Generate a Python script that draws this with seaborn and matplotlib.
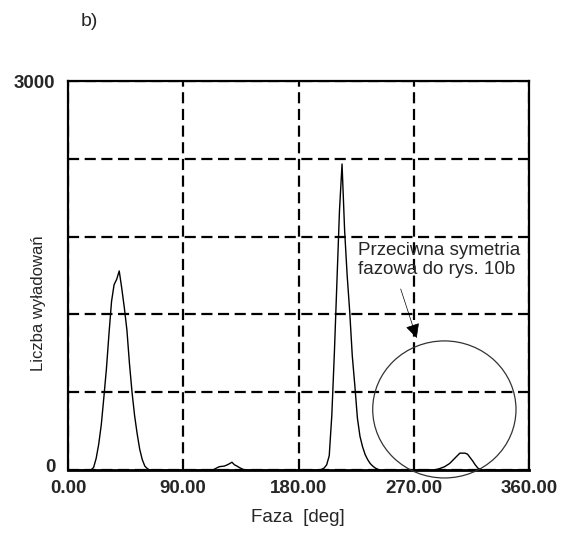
import numpy as np
import pandas as pd
import matplotlib
matplotlib.use("Agg")
import matplotlib.pyplot as plt
import matplotlib.transforms as mtransforms
from matplotlib.patches import Ellipse
import seaborn as sns

# ---- data ----
phase_deg = [0,
             16, 18, 20, 22, 24, 26, 28, 30, 32, 34, 36, 38, 40, 42, 44, 46, 48, 50,
             52, 54, 56, 58, 60, 62, 64,
             112, 114, 116, 118, 120, 122, 124, 126, 128, 130, 132, 134, 136, 138,
             196, 198, 200, 202, 204, 206, 208, 210, 212, 214, 216, 218, 220, 222,
             224, 226, 228, 230, 232, 234, 236, 238, 240, 242, 244,
             286, 290, 294, 298, 302, 306, 310, 312, 316, 318, 320, 322, 324,
             360]
counts = [0,
          0, 0, 20, 90, 200, 350, 560, 780, 1050, 1300, 1430, 1470, 1535, 1400, 1250,
          1080, 820, 600, 420, 280, 160, 80, 30, 10, 0,
          0, 5, 15, 25, 28, 30, 38, 48, 60, 40, 30, 18, 8, 0,
          0, 5, 15, 40, 110, 420, 900, 1450, 2000, 2360, 1850, 1500, 1220, 880,
          650, 400, 260, 180, 120, 80, 50, 30, 15, 5, 0,
          0, 10, 25, 50, 90, 130, 130, 122, 70, 40, 15, 5, 0,
          0]
x_ticks = [0, 90, 180, 270, 360]
x_tick_labels = ["0.00", "90.00", "180.00", "270.00", "360.00"]
y_ticks = [0, 600, 1200, 1800, 2400, 3000]
y_tick_labels = ["0", "", "", "", "", "3000"]

df = pd.DataFrame({"Faza": phase_deg, "Liczba": counts})

sns.set_style("white")
plt.rcParams["font.family"] = ["Liberation Sans", "DejaVu Sans"]

W, H = 573, 534
fig = plt.figure(figsize=(W / 100, H / 100), dpi=100)
L, R, T, B = 68, 529, 81, 470
ax = fig.add_axes([L / W, 1 - B / H, (R - L) / W, (B - T) / H])

sns.lineplot(data=df, x="Faza", y="Liczba", ax=ax, color="black", lw=1.0,
             estimator=None, sort=False)

ax.set_xlim(0, 360)
ax.set_ylim(0, 3000)
ax.set_xticks(x_ticks)
ax.set_xticklabels(x_tick_labels, fontsize=13.5, fontweight="bold")
ax.set_yticks(y_ticks)
ax.set_yticklabels(y_tick_labels, fontsize=13.5, fontweight="bold")
ax.tick_params(axis="both", length=0)
ax.tick_params(axis="x", pad=7)
ax.tick_params(axis="y", pad=9)
ax.set_xlabel("")
ax.set_ylabel("")

# lift the "0" label slightly, as in the reference
zero_lbl = ax.get_yticklabels()[0]
zero_lbl.set_transform(zero_lbl.get_transform() +
                       mtransforms.ScaledTranslation(0, 4 / 100, fig.dpi_scale_trans))

ax.grid(True, color="black", lw=1.6, linestyle=(0, (5, 2.5)))
for s in ax.spines.values():
    s.set_visible(True)
    s.set_color("black")
    s.set_linewidth(1.6)
ax.spines["bottom"].set_linewidth(2.0)

# circle around the small bump
circ = Ellipse((293.9, 467), width=111.9, height=1057, fill=False,
               edgecolor="#333333", lw=0.9, clip_on=False, zorder=5)
ax.add_patch(circ)

ax.annotate("", xy=(272.3, 1018), xytext=(259.8, 1396),
            arrowprops=dict(arrowstyle="-|>", color="black", lw=0.5,
                            mutation_scale=22, shrinkA=0, shrinkB=0))

fig.text(358 / W, 1 - 242 / H, "Przeciwna symetria\nfazowa do rys. 10b",
         ha="left", va="top", fontsize=13.5, linespacing=1.15)

fig.text(298 / W, 1 - 518 / H, "Faza  [deg]", ha="center", va="center", fontsize=13.5)
fig.text(39 / W, 1 - 303 / H, "Liczba wyładowań", ha="center", va="center",
         rotation=90, fontsize=12)
fig.text(89 / W, 1 - 21 / H, "b)", ha="center", va="center", fontsize=14)

fig.savefig("out.png", dpi=100)
